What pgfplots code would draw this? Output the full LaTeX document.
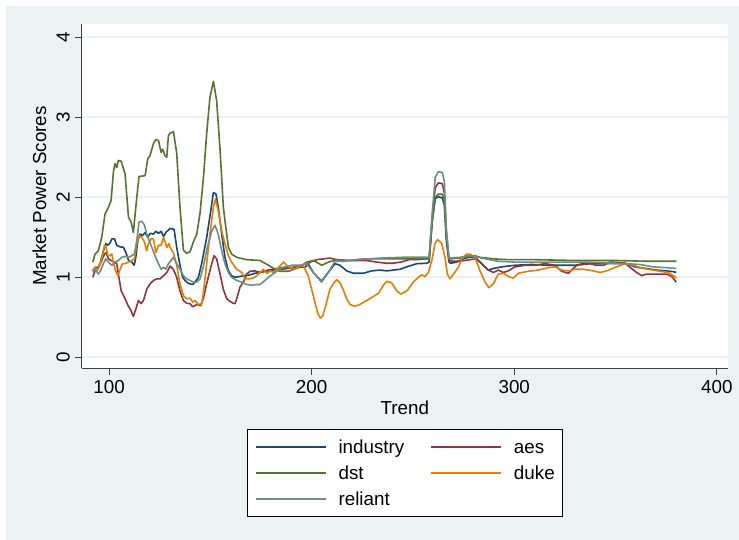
\documentclass[border=0pt]{standalone}
\usepackage{fontspec}
\setmainfont{Liberation Sans}
\usepackage{pgfplots}
\pgfplotsset{compat=1.18}

\definecolor{bgblue}{RGB}{234,242,243}
\definecolor{snavy}{RGB}{26,71,111}
\definecolor{smaroon}{RGB}{144,53,59}
\definecolor{sgreen}{RGB}{85,117,47}
\definecolor{sorange}{RGB}{227,126,0}
\definecolor{steal}{RGB}{110,142,132}

\newcommand\fs{\fontsize{18.8}{22}\selectfont}

\begin{document}
\begin{tikzpicture}
% page background and outer frame
\fill[white] (0pt,0pt) rectangle (739pt,540pt);
\fill[bgblue] (6pt,0pt) rectangle (739pt,534pt);

\begin{axis}[
  at={(81.7pt,172pt)}, anchor=south west,
  scale only axis, width=646.3pt, height=344pt,
  xmin=86.5, xmax=405.5, ymin=-0.134, ymax=4.166,
  axis lines*=left,
  axis line style={draw=black!75, line width=0.9pt},
  axis background/.style={fill=white},
  xtick={100,200,300,400}, ytick={0,1,2,3,4},
  tick align=outside, major tick length=7pt,
  tick style={draw=black!75, line width=0.9pt},
  ymajorgrids, major grid style={draw=bgblue, line width=1.7pt},
  /pgf/number format/assume math mode=true,
  every tick label/.append style={font=\fs},
  xticklabel style={anchor=base, inner sep=0pt, yshift=-19pt},
  yticklabel style={xshift=-5pt, rotate=90, anchor=base, inner sep=0pt},
  xlabel={Trend}, ylabel={Market Power Scores},
  label style={font=\fs},
  xlabel style={at={(axis description cs:0.5,-0.1366)}, anchor=base, inner sep=0pt},
  ylabel style={at={(axis description cs:-0.0552,0.5)}, anchor=base, inner sep=0pt},
  legend columns=2,
  legend cell align=left,
  legend image code/.code={\draw[#1] (0pt,0pt) -- (70pt,0pt);},
  legend style={at={(axis description cs:0.5,-0.1773)}, anchor=north,
    draw=black, line width=0.8pt, fill=white, font=\fs,
    inner xsep=8pt, inner ysep=7pt, row sep=5pt, column sep=12pt,
    nodes={inner sep=0pt, text height=17pt, text depth=4pt},
    /tikz/every even column/.append style={column sep=26pt}},
  every axis plot/.append style={line width=1.6pt, line join=round, no markers},
]

% industry
\addplot[snavy] table {
92 1.08
93.1 1.125
94.4 1.12
95.6 1.17
97.2 1.33
98.4 1.42
99.4 1.40
100.5 1.43
101.4 1.48
102.7 1.48
103.8 1.40
105.5 1.38
107.1 1.375
108.3 1.31
109.6 1.21
111.2 1.19
112.4 1.15
113.2 1.25
114.2 1.46
115.3 1.54
116.5 1.52
117.8 1.56
119.1 1.50
120.3 1.55
121.9 1.54
123.1 1.575
124.4 1.55
125.7 1.575
126.9 1.51
128.0 1.56
129.3 1.59
130.1 1.61
132.1 1.60
133.4 1.375
135.0 1.15
136.3 1.0
137.5 0.96
139.1 0.925
141.3 0.91
142.4 0.94
144.1 1.0
145.7 1.17
148.2 1.5
150.2 1.83
151.5 2.06
152.8 2.04
153.9 1.875
155.6 1.54
157.2 1.25
158.9 1.08
160.5 1.02
162.2 1.0
164.6 1.01
167.1 1.02
169.6 1.03
172.0 1.05
174.5 1.06
178.7 1.09
185.3 1.12
191.8 1.125
196.8 1.13
198.5 1.16
200.8 1.06
204.9 0.95
208.2 1.06
211.5 1.17
214.0 1.15
217.3 1.08
220.6 1.05
225.5 1.05
229.6 1.08
233.7 1.09
237.1 1.08
243.6 1.10
246.9 1.13
251.9 1.17
256.8 1.175
258.0 1.19
259.5 1.70
261.0 1.98
262.5 2.01
264.5 1.99
265.5 1.90
266.5 1.45
267.8 1.19
268.6 1.175
271.6 1.19
274.9 1.23
277.4 1.25
280.6 1.25
283.9 1.17
287.2 1.09
289.7 1.11
293.8 1.13
300.3 1.15
308.6 1.16
316.8 1.15
323.4 1.15
330.0 1.15
334.0 1.17
344.0 1.17
355.0 1.17
360.4 1.125
365.0 1.11
370.3 1.09
375.0 1.08
378.5 1.07
380.0 1.06
};
\addlegendentry{industry}

% aes
\addplot[smaroon] table {
92 1.0
93.1 1.08
94.8 1.12
96.4 1.21
97.7 1.29
98.6 1.31
99.7 1.23
101.0 1.21
102.7 1.19
103.8 1.17
104.6 1.04
106.0 0.83
107.6 0.75
109.3 0.65
110.9 0.58
112.0 0.51
113.2 0.60
114.5 0.71
115.8 0.67
117.0 0.71
118.6 0.85
120.3 0.92
121.9 0.96
123.6 0.98
125.2 0.98
126.9 1.02
128.5 1.06
130.1 1.14
131.7 1.10
133.4 1.0
135.0 0.83
136.7 0.71
138.3 0.675
140.0 0.67
141.3 0.63
143.3 0.66
145.2 0.645
146.5 0.73
148.2 0.92
150.2 1.125
151.8 1.27
153.1 1.23
154.8 1.04
156.4 0.85
158.1 0.73
159.7 0.70
161.3 0.675
162.2 0.67
163.0 0.73
164.6 0.875
166.3 0.94
167.9 1.04
169.6 1.075
172.0 1.08
174.5 1.06
178.7 1.08
185.3 1.10
191.8 1.125
196.8 1.13
199.2 1.19
202.5 1.22
205.7 1.23
209.0 1.24
212.3 1.22
217.3 1.21
222.2 1.21
227.1 1.21
232.0 1.19
237.1 1.175
240.0 1.175
244.0 1.19
248.0 1.22
252.0 1.22
256.0 1.23
258.0 1.23
259.5 1.75
261.0 2.12
262.5 2.18
264.5 2.17
265.5 2.05
266.5 1.55
267.8 1.21
270.0 1.20
272.4 1.20
275.7 1.21
278.2 1.22
281.4 1.23
283.9 1.17
287.2 1.09
289.7 1.06
292.1 1.09
294.6 1.06
297.0 1.08
300.3 1.13
305.3 1.15
310.2 1.15
315.1 1.17
320.1 1.15
323.4 1.075
326.7 1.05
330.8 1.15
337.4 1.17
340.7 1.15
344.0 1.15
347.2 1.19
354.6 1.18
357.1 1.125
360.4 1.06
362.9 1.02
365.3 1.04
370.3 1.04
375.2 1.04
377.7 1.01
380.0 0.94
};
\addlegendentry{aes}

% dst
\addplot[sgreen] table {
92 1.19
93.1 1.29
94.7 1.33
96.4 1.50
98.0 1.79
99.7 1.875
101.0 1.96
102.2 2.33
103.0 2.42
103.8 2.37
104.6 2.46
106.0 2.45
107.9 2.29
109.6 1.75
110.9 1.69
112.0 1.56
113.7 2.0
114.8 2.26
117.8 2.27
119.1 2.48
120.2 2.52
121.9 2.67
123.0 2.72
124.4 2.71
125.7 2.56
126.5 2.60
127.6 2.52
128.5 2.50
129.3 2.77
130.1 2.80
131.8 2.82
133.4 2.55
135.0 1.88
136.7 1.34
138.3 1.30
140.0 1.32
141.6 1.44
143.3 1.54
144.9 1.80
146.6 2.25
148.2 2.80
149.8 3.25
151.5 3.45
153.1 3.21
154.8 2.59
156.4 1.88
157.2 1.71
158.9 1.375
160.5 1.29
163.0 1.25
167.9 1.22
174.5 1.21
178.7 1.15
182.0 1.10
184.4 1.075
188.5 1.075
193.5 1.12
197.6 1.19
200.9 1.21
205.0 1.15
208.3 1.19
212.4 1.22
218.2 1.21
226.4 1.23
240.0 1.23
250.0 1.23
258.0 1.23
259.5 1.70
261.0 2.00
262.5 2.04
264.5 2.04
265.5 1.95
266.5 1.50
267.8 1.23
273.3 1.24
277.4 1.26
280.6 1.27
283.0 1.25
290.0 1.23
297.0 1.22
310.0 1.22
330.0 1.21
350.0 1.21
365.0 1.20
380.0 1.20
};
\addlegendentry{dst}

% duke
\addplot[sorange] table {
92 1.08
93.1 1.125
94.4 1.09
95.6 1.17
96.8 1.27
97.7 1.40
98.6 1.375
99.4 1.27
100.5 1.27
101.4 1.29
102.2 1.17
103.3 1.08
104.3 1.02
105.5 1.10
106.6 1.17
107.9 1.17
109.6 1.19
111.2 1.21
112.5 1.23
113.7 1.42
114.8 1.52
116.2 1.50
117.5 1.44
118.6 1.33
119.4 1.42
120.8 1.48
121.9 1.48
123.1 1.31
124.4 1.40
125.7 1.40
126.9 1.50
127.7 1.44
128.5 1.375
129.6 1.42
130.1 1.375
131.7 1.31
133.4 1.15
135.0 0.92
136.7 0.77
138.3 0.73
140.0 0.74
141.3 0.69
142.4 0.71
144.1 0.66
145.7 0.67
146.5 0.79
148.2 1.17
149.8 1.54
151.5 1.875
152.5 1.98
153.9 1.83
155.6 1.58
157.2 1.42
158.9 1.27
160.5 1.19
163.0 1.10
165.5 1.06
167.1 0.98
169.6 0.98
172.0 1.0
174.6 1.06
176.2 1.10
177.9 1.05
179.5 1.08
181.1 1.06
183.6 1.12
186.1 1.19
188.5 1.13
191.8 1.10
194.2 1.15
195.9 1.14
198.3 1.02
200.0 0.85
201.6 0.69
203.0 0.55
204.3 0.49
205.5 0.52
207.0 0.65
209.0 0.85
211.0 0.93
212.4 0.97
214.0 0.93
215.5 0.85
217.3 0.73
219.0 0.66
221.0 0.64
223.0 0.65
224.5 0.67
227.2 0.71
230.5 0.76
233.0 0.80
235.4 0.90
237.1 0.95
239.5 0.93
242.0 0.83
244.0 0.79
247.0 0.83
250.2 0.94
252.7 1.00
254.3 1.03
256.0 1.01
257.6 1.06
259.3 1.21
260.9 1.42
262.1 1.47
264.2 1.425
265.8 1.25
267.0 1.04
268.3 0.98
270.0 1.04
272.4 1.125
274.1 1.23
276.5 1.29
278.2 1.29
280.6 1.25
283.1 1.08
285.6 0.94
287.5 0.87
289.7 0.92
292.1 1.04
294.6 1.05
297.0 1.01
299.5 0.99
302.0 1.05
306.9 1.075
311.8 1.09
316.8 1.12
320.1 1.13
323.4 1.09
326.7 1.08
330.0 1.10
334.1 1.10
339.0 1.08
342.3 1.06
345.6 1.08
350.5 1.13
354.6 1.17
358.8 1.15
363.7 1.11
368.6 1.09
371.9 1.075
376.0 1.06
378.5 1.02
380.0 0.99
};
\addlegendentry{duke}

% reliant
\addplot[steal] table {
92 1.06
93.1 1.10
94.8 1.04
96.1 1.10
97.2 1.17
98.4 1.23
99.7 1.19
101.4 1.15
103.0 1.19
104.6 1.21
106.3 1.25
107.9 1.26
109.6 1.25
111.2 1.27
112.5 1.29
113.7 1.46
114.8 1.69
116.2 1.70
117.5 1.65
118.6 1.54
119.8 1.46
121.1 1.375
122.7 1.27
124.4 1.17
125.7 1.10
126.9 1.125
128.0 1.10
129.3 1.17
130.1 1.19
131.7 1.25
133.4 1.17
135.0 1.10
136.7 1.02
138.3 0.98
140.0 0.96
141.6 0.94
143.3 0.94
144.9 0.98
146.5 1.125
148.5 1.375
150.7 1.58
152.3 1.65
153.9 1.54
155.6 1.33
157.2 1.17
158.9 1.06
160.5 1.0
163.0 0.96
165.5 0.94
167.9 0.91
170.4 0.90
172.9 0.91
174.5 0.91
176.0 0.94
178.7 1.0
182.0 1.06
185.3 1.12
190.2 1.15
194.2 1.15
197.5 1.17
200.8 1.06
204.9 0.94
208.2 1.06
211.5 1.20
215.6 1.20
222.2 1.22
233.7 1.24
245.0 1.25
258.0 1.25
259.5 1.80
261.0 2.25
262.5 2.32
264.5 2.31
265.5 2.20
266.5 1.60
267.8 1.24
273.3 1.25
277.4 1.27
280.6 1.26
284.0 1.24
292.0 1.20
300.0 1.19
320.0 1.19
335.0 1.19
345.0 1.18
355.0 1.17
362.0 1.16
368.6 1.13
375.0 1.12
380.0 1.11
};
\addlegendentry{reliant}
\end{axis}
\pgfresetboundingbox
\useasboundingbox (0pt,0pt) rectangle (739pt,540pt);
\end{tikzpicture}
\end{document}
